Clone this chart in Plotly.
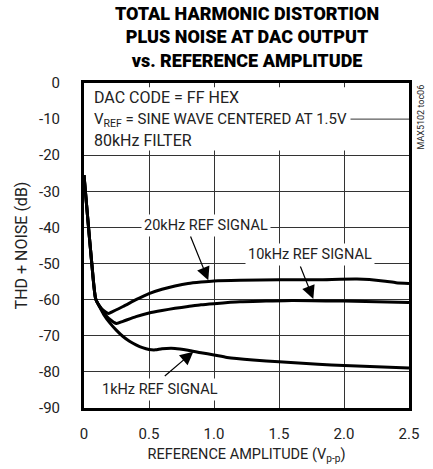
import plotly.graph_objects as go

# ---- data ----
x_20k = [0, 0.03, 0.06, 0.09, 0.12, 0.15, 0.19, 0.22, 0.3, 0.4, 0.5, 0.6, 0.7, 0.8, 0.9, 1.0, 1.2, 1.5, 1.8, 2.1, 2.3, 2.4, 2.5]
y_20k = [-25.5, -38, -50, -59.8, -61.8, -63.0, -63.8, -63.3, -61.9, -60.0, -58.3, -57.1, -56.2, -55.5, -55.1, -54.8, -54.6, -54.5, -54.5, -54.3, -54.8, -55.3, -55.5]

x_10k = [0, 0.03, 0.06, 0.09, 0.12, 0.15, 0.2, 0.25, 0.3, 0.4, 0.5, 0.6, 0.7, 0.8, 0.9, 1.0, 1.2, 1.4, 1.6, 2.0, 2.5]
y_10k = [-25.5, -38, -50, -59.8, -61.9, -63.5, -65.5, -66.6, -66.0, -64.7, -63.7, -63.0, -62.4, -61.9, -61.4, -61.1, -60.6, -60.4, -60.2, -60.4, -60.8]

x_1k = [0, 0.03, 0.06, 0.09, 0.12, 0.15, 0.2, 0.25, 0.3, 0.35, 0.4, 0.45, 0.5, 0.55, 0.6, 0.7, 0.8, 0.9, 1.0, 1.1, 1.3, 1.5, 1.8, 2.0, 2.5]
y_1k = [-25.5, -38, -50, -59.8, -62.0, -64.0, -66.5, -68.5, -70.2, -71.5, -72.5, -73.3, -73.8, -73.9, -73.6, -73.5, -74.0, -74.7, -75.3, -76.0, -76.7, -77.2, -77.9, -78.2, -78.9]

x_ticks = [0, 0.5, 1.0, 1.5, 2.0, 2.5]
x_tick_labels = ["0", "0.5", "1.0", "1.5", "2.0", "2.5"]
y_ticks = [0, -10, -20, -30, -40, -50, -60, -70, -80, -90]
y_tick_labels = ["0", "-10", "-20", "-30", "-40", "-50", "-60", "-70", "-80", "-90"]

FONT = "Roboto, sans-serif"
TXT = "#222222"

fig = go.Figure()
for xs, ys in [(x_20k, y_20k), (x_10k, y_10k), (x_1k, y_1k)]:
    fig.add_trace(go.Scatter(x=xs, y=ys, mode="lines",
                             line=dict(color="black", width=3, shape="spline", smoothing=0.6),
                             showlegend=False, hoverinfo="skip"))

fig.update_layout(
    width=433, height=469,
    margin=dict(l=84, r=24, t=83, b=61, autoexpand=False),
    paper_bgcolor="white", plot_bgcolor="white",
    font=dict(family=FONT, size=15, color=TXT),
    showlegend=False,
)
fig.update_xaxes(range=[0, 2.5], tickvals=x_ticks, ticktext=x_tick_labels,
                 showgrid=True, gridcolor="#333333", gridwidth=1,
                 showline=True, linecolor="black", linewidth=3, mirror=True,
                 ticks="", ticklabelstandoff=10, zeroline=False,
                 tickfont=dict(family=FONT, size=15, color=TXT),
                 title=dict(text="REFERENCE AMPLITUDE (V<sub>p-p</sub>)", standoff=7,
                            font=dict(family=FONT, size=14.5, color=TXT)))
fig.update_yaxes(range=[-90, 0], tickvals=y_ticks, ticktext=y_tick_labels,
                 showgrid=True, gridcolor="#333333", gridwidth=1,
                 showline=True, linecolor="black", linewidth=3, mirror=True,
                 ticks="", ticklabelstandoff=18, zeroline=False,
                 tickfont=dict(family=FONT, size=15, color=TXT),
                 title=dict(text="THD + NOISE (dB)", standoff=8,
                            font=dict(family=FONT, size=16, color=TXT)))

# white block behind the condition text (hides gridlines except short stubs)
fig.add_shape(type="rect", xref="x", yref="y", x0=0, x1=2.5, y0=-18.7, y1=-1.2,
              fillcolor="white", line=dict(width=0), layer="between")
fig.add_shape(type="line", xref="x", yref="y", x0=2.05, x1=2.5, y0=-10, y1=-10,
              line=dict(color="#333333", width=1), layer="between")

for txt, yy, fs in [("DAC CODE = FF HEX", -3.9, 16),
                    ("V<sub>REF</sub> = SINE WAVE CENTERED AT 1.5V", -10.2, 15),
                    ("80kHz FILTER", -15.8, 16)]:
    fig.add_annotation(x=0.06, y=yy, xref="x", yref="y", text=txt, showarrow=False,
                       xanchor="left", yanchor="middle",
                       font=dict(family=FONT, size=fs, color=TXT))

# curve labels with white backgrounds
for txt, xx, yy in [("20kHz REF SIGNAL", 0.935, -39.4),
                    ("10kHz REF SIGNAL", 1.74, -47.6),
                    ("1kHz REF SIGNAL", 0.585, -85.0)]:
    fig.add_annotation(x=xx, y=yy, xref="x", yref="y", text=txt, showarrow=False,
                       bgcolor="white", borderpad=2,
                       font=dict(family=FONT, size=14.5, color=TXT))

# arrows
for tx, ty, hx, hy in [(0.815, -42.1, 0.956, -54.6),
                       (1.66, -50.4, 1.764, -59.8),
                       (0.61, -81.5, 0.841, -74.4)]:
    fig.add_annotation(x=hx, y=hy, ax=tx, ay=ty, xref="x", yref="y", axref="x", ayref="y",
                       text="", showarrow=True, arrowhead=2, arrowsize=2.2,
                       arrowwidth=1.2, arrowcolor="black", standoff=0)

# title
fig.add_annotation(x=0.5, y=1.1415, xref="paper", yref="paper",
                   text="TOTAL HARMONIC DISTORTION<br>PLUS NOISE AT DAC OUTPUT<br>vs. REFERENCE AMPLITUDE",
                   showarrow=False, xanchor="center", yanchor="middle",
                   font=dict(family=FONT, size=18, color="black", weight=900))

# side code
fig.add_annotation(x=1.0, y=1.0, xref="paper", yref="paper", text="MAX5102 toc06",
                   showarrow=False, textangle=-90, xanchor="left", yanchor="top",
                   xshift=4, font=dict(family=FONT, size=9, color=TXT))

fig.write_html("out.html", config={"displayModeBar": False},
               post_script="document.body.style.margin='0';")
